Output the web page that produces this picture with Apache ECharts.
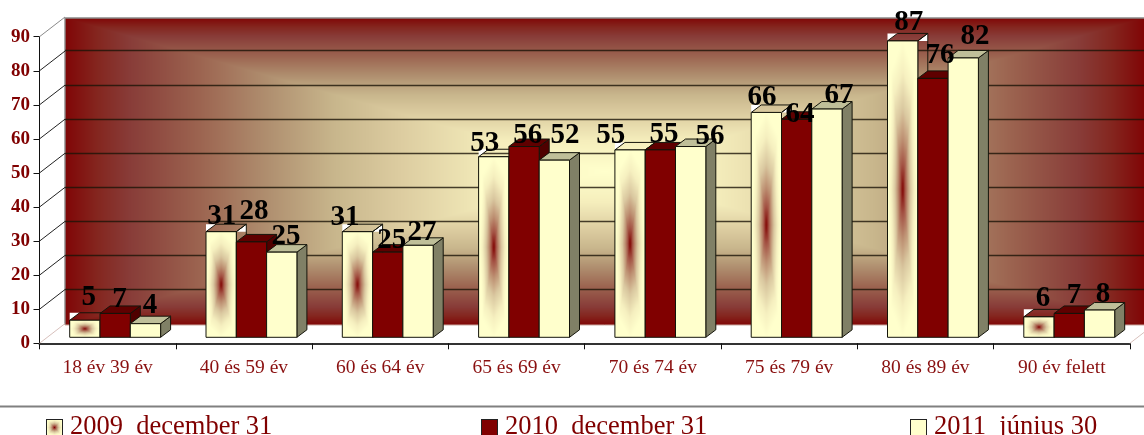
<!DOCTYPE html>
<html><head><meta charset="utf-8">
<style>html,body{margin:0;padding:0;background:#fff;overflow:hidden}#c{width:1144px;height:435px}</style>
<script src="https://cdn.jsdelivr.net/npm/echarts@6/dist/echarts.min.js"></script>
</head><body><div id="c"></div>
<script>
var categories = ['18 év 39 év','40 és 59 év','60 és 64 év','65 és 69 év','70 és 74 év','75 és 79 év','80 és 89 év','90 év felett'];
var seriesNames = ['2009  december 31','2010  december 31','2011  június 30'];
var values2009 = [5,31,31,53,55,66,87,6];
var values2010 = [7,28,25,56,55,64,76,7];
var values2011 = [4,25,27,52,56,67,82,8];
var yTicks = [0,10,20,30,40,50,60,70,80,90];

// hand placement of the value labels, relative to the bar's front-top centre
var labelDx = [[4,0.5,-12.5,-9,-19.3,-4.3,6.2,4],[4.4,2.5,4,3.7,3.6,3.4,7,4.8],[4.6,4.3,4,10.7,19.4,12,11.8,3.5]];
var labelDy = [[-24,-16.6,-15.6,-14.8,-15.5,-16.6,-20.2,-19.6],[-15.2,-31.8,-13,-12.6,-17,-6.4,-24.6,-19.2],[-19.4,-17,-14.2,-26.2,-11.6,-15.2,-23.2,-16.8]];

var FONT = '"Liberation Serif"';
var DX = 10, DY = 7.5, BASE = 6, BAR = 0.2223, START = -0.2784, LABEL_SHIFT = 1.5;

var wallRamp = [[0,255,255,204],[.2,245,238,188],[.38,220,204,160],[.5,200,182,140],[.62,176,144,112],[.75,156,100,80],[.88,136,60,56],[.94,132,38,31],[1,128,6,6]];
var barRamp = [[0,128,0,0],[.06,140,30,24],[.18,165,85,70],[.35,190,145,115],[.55,218,200,160],[.8,246,240,192],[1,255,255,204]];
function ramp(stops, t) {
  t = Math.min(1, Math.max(0, t));
  for (var i = 1; i < stops.length; i++) if (t <= stops[i][0]) {
    var a = stops[i - 1], b = stops[i], f = (t - a[0]) / (b[0] - a[0]);
    return [a[1] + (b[1] - a[1]) * f, a[2] + (b[2] - a[2]) * f, a[3] + (b[3] - a[3]) * f];
  }
  return stops[stops.length - 1].slice(1);
}
function fieldCanvas(w, h, colourAt) {
  w = Math.max(2, Math.round(w)); h = Math.max(2, Math.round(h));
  var c = document.createElement('canvas'); c.width = w; c.height = h;
  var g = c.getContext('2d'), im = g.createImageData(w, h), d = im.data, k = 0;
  for (var y = 0; y < h; y++) for (var x = 0; x < w; x++) {
    var u = Math.abs((x + .5) / w - .5) * 2, v = Math.abs((y + .5) / h - .5) * 2;
    var s = colourAt(u, v);
    d[k++] = s[0]; d[k++] = s[1]; d[k++] = s[2]; d[k++] = 255;
  }
  g.putImageData(im, 0, 0);
  return c;
}
function wallField(u, v) { return ramp(wallRamp, Math.max(u, v)); }
function barField(u, v) {
  var t = 0.72 * Math.max(1.1 * u, v) + 0.28 * (u + v);
  return ramp(barRamp, t);
}
var barCache = {};
function barCanvas(w, h) {
  var key = Math.round(w) + 'x' + Math.round(h);
  return barCache[key] || (barCache[key] = fieldCanvas(w, h, barField));
}
function swatch(fill) {
  var c = document.createElement('canvas'); c.width = 17; c.height = 17;
  var g = c.getContext('2d');
  if (fill) { g.fillStyle = fill; g.fillRect(0, 0, 17, 17); }
  else g.drawImage(fieldCanvas(17, 17, barField), 0, 0);
  g.strokeStyle = '#222'; g.strokeRect(.5, .5, 16, 16);
  return 'image://' + c.toDataURL();
}

var faces = [
  {front: null, top: 'transparent', side: 'transparent'},
  {front: '#800000', top: '#5f0000', side: '#4f0000'},
  {front: '#ffffcc', top: '#bfbf99', side: '#808066'}
];
var EDGE = '#14140a';

function barRenderer(sIdx) {
  return function (params, api) {
    var cat = api.value(0), val = api.value(1);
    var p = api.coord([cat, val]), band = api.size([1, 0])[0];
    var w = band * BAR, x = p[0] + band * START + sIdx * w;
    var top = p[1] - BASE, base = api.coord([cat, 0])[1] - BASE;
    var f = faces[sIdx], kids = [];
    if (sIdx === 0) {
      kids.push({type: 'polygon', shape: {points: [[x, top - DY], [x + DX, top - DY], [x, top]]}, style: {fill: '#fff'}});
      kids.push({type: 'polygon', shape: {points: [[x + w, top], [x + w + DX, top - DY], [x + w + DX, top]]}, style: {fill: '#fff'}});
    }
    kids.push({type: 'polygon', shape: {points: [[x + w, top], [x + w + DX, top - DY], [x + w + DX, base - DY], [x + w, base]]}, style: {fill: f.side, stroke: EDGE, lineWidth: 1}});
    kids.push({type: 'polygon', shape: {points: [[x, top], [x + DX, top - DY], [x + w + DX, top - DY], [x + w, top]]}, style: {fill: f.top, stroke: EDGE, lineWidth: 1}});
    if (sIdx === 0) {
      kids.push({type: 'image', style: {image: barCanvas(w, base - top), x: x, y: top, width: w, height: base - top}});
      kids.push({type: 'rect', shape: {x: x, y: top, width: w, height: base - top}, style: {fill: 'transparent', stroke: EDGE, lineWidth: 1}});
    } else {
      kids.push({type: 'rect', shape: {x: x, y: top, width: w, height: base - top}, style: {fill: f.front, stroke: EDGE, lineWidth: 1}});
    }
    return {type: 'group', children: kids};
  };
}
function labelRenderer(sIdx) {
  return function (params, api) {
    var cat = api.value(0), val = api.value(1);
    var p = api.coord([cat, val]), band = api.size([1, 0])[0];
    var w = band * BAR, x = p[0] + band * START + sIdx * w + w / 2;
    return {type: 'text', z2: 100, style: {
      text: String(val), x: x + labelDx[sIdx][cat], y: p[1] - BASE + labelDy[sIdx][cat] + LABEL_SHIFT,
      align: 'center', verticalAlign: 'middle', fill: '#000',
      font: 'bold 29px ' + FONT
    }};
  };
}
function wallRenderer(params) {
  var r = params.coordSys, top = r.y + 1.4, h = r.height + 0.2;
  var right = r.x + r.width;
  return {type: 'group', children: [
    {type: 'image', style: {image: wallCanvas, x: r.x, y: top, width: r.width, height: h}},
    {type: 'polyline', shape: {points: [[r.x, top + h], [r.x, top], [right, top]]}, style: {stroke: '#8a8a8a', lineWidth: 1.4, fill: 'none'}},
    {type: 'line', shape: {x1: r.x, y1: top + h, x2: right, y2: top + h}, style: {stroke: '#c9a8a0', lineWidth: 1}}
  ]};
}
function diagonalRenderer(params, api) {
  var v = api.value(0), p = api.coord([0, v]), band = api.size([1, 0])[0];
  var x = p[0] - band / 2, edge = v === 0 || v === 90;
  return {type: 'line', shape: {x1: x, y1: p[1], x2: x + 25.5, y2: p[1] - 19.7},
    style: {stroke: v === 0 ? '#d8c0bc' : edge ? '#8a8a8a' : '#222', lineWidth: 1}};
}
function floorRightRenderer(params, api) {
  var p = api.coord([categories.length - 1, 0]), band = api.size([1, 0])[0];
  var x = p[0] + band / 2;
  return {type: 'line', shape: {x1: x, y1: p[1], x2: x + 25.5, y2: p[1] - 19.7}, style: {stroke: '#d8c0bc', lineWidth: 1}};
}

var wallCanvas = fieldCanvas(1079, 307, wallField);
var allValues = [values2009, values2010, values2011];
var pairs = function (arr) { return arr.map(function (v, i) { return [i, v]; }); };
var series = [
  {type: 'custom', name: 'wall', coordinateSystem: 'cartesian2d', xAxisIndex: 1, yAxisIndex: 1, z: -1, silent: true, clip: false, data: [[0, 0]], renderItem: wallRenderer},
  {type: 'custom', name: 'diagonals', coordinateSystem: 'cartesian2d', xAxisIndex: 0, yAxisIndex: 0, z: 1, silent: true, clip: false, data: yTicks.map(function (v) { return [v]; }), encode: {y: 0}, renderItem: diagonalRenderer},
  {type: 'custom', name: 'floor', coordinateSystem: 'cartesian2d', xAxisIndex: 0, yAxisIndex: 0, z: 1, silent: true, clip: false, data: [[0, 0]], renderItem: floorRightRenderer}
];
allValues.forEach(function (vals, s) {
  series.push({type: 'custom', name: seriesNames[s], coordinateSystem: 'cartesian2d', xAxisIndex: 0, yAxisIndex: 0, z: 3 + s, silent: true, clip: false, encode: {x: 0, y: 1}, data: pairs(vals), renderItem: barRenderer(s), itemStyle: {color: ['#c9a080', '#800000', '#ffffcc'][s]}});
});
allValues.forEach(function (vals, s) {
  series.push({type: 'custom', name: 'labels ' + s, coordinateSystem: 'cartesian2d', xAxisIndex: 0, yAxisIndex: 0, z: 10, silent: true, clip: false, encode: {x: 0, y: 1}, data: pairs(vals), renderItem: labelRenderer(s)});
});

var legendLeft = [46, 481, 910];
var legendIcons = [swatch(null), swatch('#800000'), swatch('#ffffcc')];
var chart = echarts.init(document.getElementById('c'), null, {renderer: 'canvas'});
chart.setOption({
  animation: false,
  backgroundColor: '#fff',
  tooltip: {show: false},
  grid: [
    {left: 39.5, top: 36.7, width: 1090.4, height: 306.6},
    {left: 65, top: 16.6, width: 1079, height: 306.8}
  ],
  xAxis: [
    {type: 'category', gridIndex: 0, data: categories, boundaryGap: true,
     axisLine: {lineStyle: {color: '#333', width: 2}},
     axisTick: {show: true, length: 6, lineStyle: {color: '#111', width: 1}},
     axisLabel: {color: '#8a1010', fontFamily: FONT, fontSize: 19.5, margin: 15, interval: 0}},
    {type: 'category', gridIndex: 1, data: categories, show: false}
  ],
  yAxis: [
    {type: 'value', gridIndex: 0, min: 0, max: 90, interval: 10,
     axisLine: {show: true, lineStyle: {color: '#111', width: 1}},
     axisTick: {show: true, length: 6, lineStyle: {color: '#111', width: 1}},
     axisLabel: {color: '#800000', fontFamily: FONT, fontWeight: 'bold', fontSize: 19, margin: 9.5},
     splitLine: {show: false}},
    {type: 'value', gridIndex: 1, min: 0, max: 90, interval: 10,
     axisLine: {show: false}, axisTick: {show: false}, axisLabel: {show: false},
     splitLine: {show: true, showMinLine: false, showMaxLine: false, lineStyle: {color: '#1c1408', width: 1.4, opacity: .8}}}
  ],
  legend: legendLeft.map(function (left, i) {
    return {
      left: left, top: 414, padding: 0, itemWidth: 17, itemHeight: 17, selectedMode: false,
      textStyle: {color: '#800000', fontFamily: FONT, fontSize: 26.5, padding: [0, 0, 0, 2]},
      data: [{name: seriesNames[i], icon: legendIcons[i]}]
    };
  }),
  graphic: [{type: 'rect', silent: true, shape: {x: 0, y: 405.5, width: 1144, height: 2}, style: {fill: '#808080'}}],
  series: series
});
</script></body></html>
